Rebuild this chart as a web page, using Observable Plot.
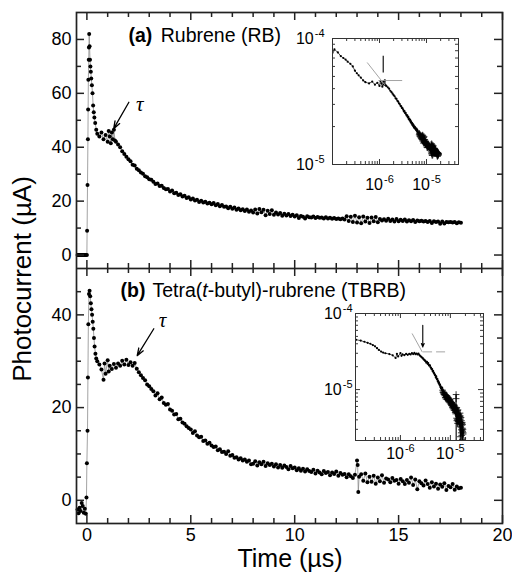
<!DOCTYPE html>
<html><head><meta charset="utf-8">
<script src="https://cdn.jsdelivr.net/npm/d3@7"></script>
<script src="https://cdn.jsdelivr.net/npm/@observablehq/plot@0.6"></script>
<style>
html,body{margin:0;padding:0;background:#fff;}
#wrap{position:relative;width:512px;height:573px;overflow:hidden;background:#fff;}
</style></head><body><div id="wrap"></div><script>
// ---------- data: photocurrent (µA) vs time (µs) ----------
const rbSamples = [
[-0.45,0],[-0.4,0],[-0.35,0],[-0.3,0],[-0.25,0],[-0.2,0],[-0.15,0],[-0.1,0],[-0.05,0],[0,0],
[0.01,9],[0.03,26],[0.05,43],[0.06,54],[0.07,65],[0.09,72.5],[0.1,77],[0.11,82],[0.13,77.5],[0.15,72.5],[0.17,70],[0.19,68],[0.21,65.5],[0.24,63],[0.27,60],[0.3,55.5],[0.33,53],[0.36,51],[0.4,49],[0.45,46.5],[0.5,45],
[0.6,44],[0.7,45.5],[0.8,43],[0.9,44.5],[1.0,42],[1.05,46],[1.1,44],[1.15,41.5],[1.2,45.5],[1.25,43],[1.3,46.5],[1.35,42.5],[1.4,42],
[1.5,41],[1.6,40],[1.7,38.5],[1.8,37.5],[1.9,36.5],[2.0,35.5],[2.1,34.8],[2.2,33.5],[2.3,33.2],[2.4,32],[2.5,31.5],[2.6,30.6],[2.7,30.2],[2.8,29.2],[2.9,28.9],
[3.0,28.1],[3.1,27.9],[3.2,27.2],[3.3,26.4],[3.4,26.5],[3.5,25.6],[3.6,25.7],[3.7,24.9],[3.8,24.4],[3.9,24.5],[4.0,23.6],[4.1,23.9],[4.2,22.9],[4.3,23.1],[4.4,22.3],[4.5,22.6],[4.6,21.7],[4.7,22.0],[4.8,21.2],[4.9,21.4],
[5.0,20.6],[5.1,21.0],[5.2,20.2],[5.3,20.5],[5.4,19.7],[5.5,20.1],[5.6,19.5],[5.7,19.8],[5.8,19.1],[5.9,19.4],[6.0,18.8],[6.1,19.3],[6.2,18.5],[6.3,18.9],[6.4,18.1],[6.5,18.6],[6.6,17.9],[6.7,18.0],[6.8,17.4],[6.9,17.9],
[7.0,17.2],[7.1,17.6],[7.2,16.8],[7.3,17.3],[7.4,16.6],[7.5,17.0],[7.6,16.3],[7.7,16.9],[7.8,16.1],[7.9,16.5],[8.0,15.8],[8.1,16.9],[8.2,15.4],[8.3,17.1],[8.4,15.9],[8.5,16.8],[8.6,14.8],[8.7,16.4],[8.8,15.2],[8.9,16.6],
[9.0,14.9],[9.1,15.8],[9.2,15.0],[9.3,15.6],[9.4,14.6],[9.5,15.3],[9.6,14.7],[9.7,15.2],[9.8,14.5],[9.9,14.9],[10.0,14.3],[10.1,14.8],[10.2,13.7],[10.3,14.5],[10.4,14.2],[10.5,13.6],[10.6,14.4],[10.7,14.0],[10.8,13.9],[10.9,14.3],
[11.0,13.7],[11.1,14.1],[11.2,13.8],[11.3,13.9],[11.4,13.6],[11.5,14.0],[11.6,13.6],[11.7,13.8],[11.8,13.5],[11.9,13.7],[12.0,13.4],[12.1,13.6],[12.2,13.3],[12.3,13.6],[12.4,13.2],[12.5,14.4],[12.6,12.6],[12.7,14.2],[12.8,12.3],[12.9,14.6],
[13.0,12.1],[13.1,14.0],[13.2,11.8],[13.3,14.3],[13.4,12.4],[13.5,13.8],[13.6,11.9],[13.7,13.9],[13.8,12.5],[13.9,14.1],[14.0,12.2],[14.1,13.4],[14.2,12.8],[14.3,13.3],[14.4,12.7],[14.5,13.5],[14.6,12.6],[14.7,13.2],[14.8,12.4],[14.9,13.4],
[15.0,12.5],[15.1,13.1],[15.2,12.6],[15.3,13.2],[15.4,12.4],[15.5,12.9],[15.6,12.5],[15.7,13.0],[15.8,12.3],[15.9,12.8],[16.0,12.5],[16.1,12.7],[16.2,12.4],[16.3,12.6],[16.4,12.3],[16.5,12.6],[16.6,11.9],[16.7,12.5],[16.8,12.3],[16.9,12.4],
[17.0,11.6],[17.1,12.4],[17.2,11.7],[17.3,12.3],[17.4,12.2],[17.5,12.3],[17.6,12.1],[17.7,12.3],[17.8,11.8],[17.9,12.2],[18.0,12.0]
];
const tbrbSamples = [
[-0.45,-2.0],[-0.4,-2.8],[-0.35,-1.6],[-0.3,-2.3],[-0.25,-0.6],[-0.2,-1.2],[-0.15,-2.7],[-0.1,-1.8],[-0.05,-2.9],[-0.02,0.6],
[0.0,8],[0.03,15],[0.05,26.5],[0.07,38],[0.1,44.5],[0.13,45.2],[0.16,44],[0.19,42.5],[0.22,41.2],[0.25,40],[0.28,38.5],[0.31,37],[0.34,35],[0.37,33.2],[0.41,31.6],[0.45,30.6],[0.5,30],
[0.6,29.3],[0.7,28.2],[0.8,26],[0.85,29.5],[0.9,27.3],[1.0,30.2],[1.05,27.8],[1.1,29],[1.2,28.3],[1.3,29.4],[1.4,28.6],[1.5,29.5],[1.6,29],[1.7,30.1],[1.8,29.3],[1.9,30.3],
[2.0,29.2],[2.1,29.8],[2.2,29],[2.3,29.6],[2.4,28.4],[2.5,27.6],[2.6,27.0],[2.7,26.4],[2.8,25.9],[2.9,25.0],[3.0,24.6],[3.1,24.0],[3.2,23.5],[3.3,22.6],[3.4,23.1],[3.5,21.8],[3.6,22.2],[3.7,21.0],[3.8,20.6],[3.9,20.8],
[4.0,19.6],[4.1,19.3],[4.2,18.5],[4.3,18.6],[4.4,17.5],[4.5,17.6],[4.6,16.8],[4.7,16.5],[4.8,16.0],[4.9,15.6],[5.0,15.3],[5.1,14.5],[5.2,14.9],[5.3,14.0],[5.4,13.6],[5.5,13.7],[5.6,12.8],[5.7,12.9],[5.8,12.2],[5.9,12.4],
[6.0,11.8],[6.1,11.5],[6.2,11.6],[6.3,10.8],[6.4,11.0],[6.5,10.4],[6.6,10.5],[6.7,10.0],[6.8,10.6],[6.9,9.6],[7.0,9.8],[7.1,9.2],[7.2,9.3],[7.3,8.8],[7.4,9.1],[7.5,8.6],[7.6,8.8],[7.7,8.3],[7.8,8.6],[7.9,7.8],
[8.0,7.9],[8.1,8.4],[8.2,7.5],[8.3,8.2],[8.4,7.8],[8.5,8.3],[8.6,7.4],[8.7,8.0],[8.8,7.6],[8.9,7.9],[9.0,7.3],[9.1,7.8],[9.2,7.1],[9.3,7.6],[9.4,7.0],[9.5,7.5],[9.6,7.2],[9.7,6.7],[9.8,7.4],[9.9,6.9],
[10.0,7.1],[10.1,6.5],[10.2,6.9],[10.3,6.4],[10.4,6.8],[10.5,6.2],[10.6,6.7],[10.7,6.3],[10.8,6.1],[10.9,6.6],[11.0,5.8],[11.1,6.4],[11.2,6.0],[11.3,5.6],[11.4,6.3],[11.5,5.9],[11.6,6.1],[11.7,5.4],[11.8,6.0],[11.9,5.7],
[12.0,6.2],[12.1,5.3],[12.2,5.9],[12.3,5.5],[12.4,5.7],[12.5,5.0],[12.6,5.6],[12.7,5.2],[12.8,4.8],[12.9,5.5],[13.0,8.6],[13.03,7.6],[13.06,1.8],[13.1,5.1],[13.2,5.6],[13.3,4.2],[13.4,5.8],[13.5,3.9],[13.6,5.1],[13.7,4.0],[13.8,5.3],[13.9,3.6],
[14.0,4.9],[14.1,4.1],[14.2,5.4],[14.3,3.8],[14.4,4.7],[14.5,4.5],[14.6,3.9],[14.7,4.8],[14.8,4.2],[14.9,4.4],[15.0,3.6],[15.1,4.6],[15.2,4.1],[15.3,3.5],[15.4,4.4],[15.5,3.8],[15.6,4.9],[15.7,3.3],[15.8,4.5],[15.9,2.4],
[16.0,4.1],[16.1,3.7],[16.2,3.2],[16.3,4.3],[16.4,3.5],[16.5,2.7],[16.6,3.9],[16.7,3.0],[16.8,3.6],[16.9,2.5],[17.0,3.4],[17.1,2.9],[17.2,3.7],[17.3,2.2],[17.4,3.1],[17.5,2.8],[17.6,3.5],[17.7,2.3],[17.8,3.0],[17.9,2.6],[18.0,2.7]
];

// ---------- axes ----------
const xDomain = [-0.5, 20];
const xMajor = [0, 5, 10, 15, 20];
const xMinor = [1,2,3,4,6,7,8,9,11,12,13,14,16,17,18,19];
const yDomainA = [-5, 90];
const yMajorA = [0, 20, 40, 60, 80];
const yMinorA = [10, 30, 50, 70];
const yDomainB = [-5, 50];
const yMajorB = [0, 20, 40];
const yMinorB = [5, 10, 15, 25, 30, 35, 45];

// insets (log–log, seconds and amperes)
const insetXDomainA = [1e-7, 4.8e-5];
const insetYDomainA = [1e-5, 1e-4];
const insetXDomainB = [1.26e-7, 4.6e-5];
const insetYDomainB = [2.14e-6, 1e-4];
const insetXMajor = [1e-6, 1e-5];
const insetXMinor = [2e-7,3e-7,4e-7,5e-7,6e-7,7e-7,8e-7,9e-7,2e-6,3e-6,4e-6,5e-6,6e-6,7e-6,8e-6,9e-6,2e-5,3e-5,4e-5];
const insetYMajor = [1e-5, 1e-4];
const insetYMinorA = [2e-5,3e-5,4e-5,5e-5,6e-5,7e-5,8e-5,9e-5];
const insetYMinorB = [3e-6,4e-6,5e-6,6e-6,7e-6,8e-6,9e-6,2e-5,3e-5,4e-5,5e-5,6e-5,7e-5,8e-5,9e-5];

// ---------- annotations ----------
const tauArrowA = {t1: 2.02, i1: 56.7, t2: 1.29, i2: 46.9};
const tauMarkA = {t: 2.55, i: 56.0};
const tauArrowB = {t1: 3.22, i1: 37.0, t2: 2.42, i2: 31.2};
const tauMarkB = {t: 3.64, i: 38.8};
const guidesA = [
  {x1: 5.47e-7, y1: 6.45e-5, x2: 1.3e-6, y2: 4.28e-5},
  {x1: 9.5e-7, y1: 4.64e-5, x2: 3.04e-6, y2: 4.64e-5}
];
const markerA = [{x1: 1.2e-6, y1: 7.3e-5, x2: 1.2e-6, y2: 5.38e-5}];
const guideDiagB = [{x1: 1.71e-6, y1: 5.46e-5, x2: 2.75e-6, y2: 3.1e-5}];
const guideFlatB = [{x1: 2.84e-6, y1: 3.13e-5, x2: 8.6e-6, y2: 3.13e-5}];
const markerB = [{x1: 2.8e-6, y1: 7.0e-5, x2: 2.8e-6, y2: 3.64e-5}];

const labelA = [{text: "(a)", weight: "bold"}, {text: " Rubrene (RB)", dx: 3}];
const labelB = [{text: "(b)", weight: "bold"}, {text: " Tetra(", dx: 2}, {text: "t", italic: true}, {text: "-butyl)-rubrene (TBRB)"}];
const xTitle = "Time (µs)";
const yTitle = "Photocurrent (µA)";

// ---------- helpers ----------
const FONT = "'Liberation Sans', Arial, Helvetica, sans-serif";
const AX = "#222";
const wrap = document.getElementById("wrap");
function place(el, left, top) {
  el.style.position = "absolute"; el.style.left = left + "px"; el.style.top = top + "px";
  wrap.appendChild(el);
}
// inward frame ticks on all four sides, drawn as rules whose ends come from the scale's inverse
function frameTicks({log = false, xDomain, yDomain, xMaj, xMin, yMaj, yMin, pw, ph, lMaj, lMin, sw}) {
  const xs = (log ? d3.scaleLog() : d3.scaleLinear()).domain(xDomain).range([0, pw]);
  const ys = (log ? d3.scaleLog() : d3.scaleLinear()).domain(yDomain).range([ph, 0]);
  const s = {stroke: AX, strokeWidth: sw};
  const m = [];
  for (const [arr, L] of [[xMaj, lMaj], [xMin, lMin]]) {
    m.push(Plot.ruleX(arr, {x: d => d, y1: yDomain[1], y2: ys.invert(L), ...s}));
    m.push(Plot.ruleX(arr, {x: d => d, y1: yDomain[0], y2: ys.invert(ph - L), ...s}));
  }
  for (const [arr, L] of [[yMaj, lMaj], [yMin, lMin]]) {
    m.push(Plot.ruleY(arr, {y: d => d, x1: xDomain[0], x2: xs.invert(L), ...s}));
    m.push(Plot.ruleY(arr, {y: d => d, x1: xDomain[1], x2: xs.invert(pw - L), ...s}));
  }
  return m;
}
const SVGNS = "http://www.w3.org/2000/svg";
function styleLabel(svg, segments) {
  const full = segments.map(s => s.text).join("");
  svg.querySelectorAll("text").forEach(t => {
    if (t.textContent === full) {
      t.textContent = "";
      for (const s of segments) {
        const ts = document.createElementNS(SVGNS, "tspan");
        ts.textContent = s.text;
        if (s.weight) ts.setAttribute("font-weight", s.weight);
        if (s.italic) ts.setAttribute("font-style", "italic");
        if (s.dx) ts.setAttribute("dx", s.dx);
        t.appendChild(ts);
      }
    }
  });
}
function superscripts(svg) {
  svg.querySelectorAll("text").forEach(t => {
    const m = t.textContent.match(/^10\^(-?\d+)$/);
    if (!m) return;
    t.textContent = "";
    const base = document.createElementNS(SVGNS, "tspan");
    base.textContent = "10";
    const sup = document.createElementNS(SVGNS, "tspan");
    sup.textContent = m[1];
    sup.setAttribute("font-size", "11px");
    sup.setAttribute("dy", "-7");
    sup.setAttribute("dx", "1");
    t.appendChild(base); t.appendChild(sup);
  });
}
const powerLabel = d => "10^" + Math.round(Math.log10(d));
const baseStyle = {fontFamily: FONT, fontSize: "18px", color: "black", background: "transparent"};

const rb = rbSamples.map(([t, i]) => ({t, i}));
const tb = tbrbSamples.map(([t, i]) => ({t, i}));

// ---------- panel (a) ----------
const panelA = Plot.plot({
  width: 512, height: 268, marginLeft: 76, marginRight: 10, marginTop: 12, marginBottom: 0,
  style: baseStyle,
  x: {domain: xDomain, axis: null, label: null},
  y: {domain: yDomainA, label: null},
  marks: [
    Plot.line(rb, {x: "t", y: "i", stroke: "#8c8c8c", strokeWidth: 0.8}),
    Plot.dot(rb, {x: "t", y: "i", r: 2, fill: "black"}),
    ...frameTicks({xDomain, yDomain: yDomainA, xMaj: xMajor, xMin: xMinor, yMaj: yMajorA, yMin: yMinorA, pw: 426, ph: 256, lMaj: 8, lMin: 5, sw: 1.5}),
    Plot.frame({stroke: AX, strokeWidth: 1.7}),
    Plot.axisY({ticks: yMajorA, anchor: "left", tickSize: 0, tickPadding: 5, fontSize: 18, label: null}),
    Plot.arrow([tauArrowA], {x1: "t1", y1: "i1", x2: "t2", y2: "i2", stroke: "black", strokeWidth: 1.3, headLength: 9, headAngle: 40}),
    Plot.text([tauMarkA], {x: "t", y: "i", text: d => "τ", fontFamily: "'Liberation Serif', 'DejaVu Serif', serif", fontStyle: "italic", fontSize: 21}),
    Plot.text([labelA.map(s => s.text).join("")], {frameAnchor: "top-left", text: d => d, dx: 52, dy: 29.5, textAnchor: "start", lineAnchor: "bottom", fontSize: 19.5})
  ]
});
styleLabel(panelA, labelA);
place(panelA, 0, 0);

// ---------- panel (b) ----------
const panelB = Plot.plot({
  width: 512, height: 305, marginLeft: 76, marginRight: 10, marginTop: 0, marginBottom: 50,
  style: baseStyle,
  x: {domain: xDomain, label: null},
  y: {domain: yDomainB, label: null},
  marks: [
    Plot.line(tb, {x: "t", y: "i", stroke: "#8c8c8c", strokeWidth: 0.8}),
    Plot.dot(tb, {x: "t", y: "i", r: 2, fill: "black"}),
    ...frameTicks({xDomain, yDomain: yDomainB, xMaj: xMajor, xMin: xMinor, yMaj: yMajorB, yMin: yMinorB, pw: 426, ph: 255, lMaj: 8, lMin: 5, sw: 1.5}),
    Plot.frame({stroke: AX, strokeWidth: 1.7}),
    Plot.axisY({ticks: yMajorB, anchor: "left", tickSize: 0, tickPadding: 5, fontSize: 18, label: null}),
    Plot.axisX({ticks: xMajor, anchor: "bottom", tickSize: 0, tickPadding: 5, fontSize: 18, label: null}),
    Plot.arrow([tauArrowB], {x1: "t1", y1: "i1", x2: "t2", y2: "i2", stroke: "black", strokeWidth: 1.3, headLength: 9, headAngle: 40}),
    Plot.text([tauMarkB], {x: "t", y: "i", text: d => "τ", fontFamily: "'Liberation Serif', 'DejaVu Serif', serif", fontStyle: "italic", fontSize: 21}),
    Plot.text([labelB.map(s => s.text).join("")], {frameAnchor: "top-left", text: d => d, dx: 44, dy: 28, textAnchor: "start", lineAnchor: "bottom", fontSize: 19.5})
  ]
});
styleLabel(panelB, labelB);
place(panelB, 0, 268);

// ---------- insets ----------
function inset(samples, {xDomain, yDomain, yMinor, w, h, pw, ph, xPad, yPad, extra}) {
  const data = samples.filter(([t, i]) => t > 0 && i > 0).map(([t, i]) => ({t: t * 1e-6, i: i * 1e-6}));
  const early = data.filter(d => d.t < 7e-6), late = data.filter(d => d.t >= 7e-6);
  const svg = Plot.plot({
    width: w, height: h, marginLeft: 50, marginRight: w - 50 - pw, marginTop: 18, marginBottom: h - 18 - ph,
    style: {...baseStyle, fontSize: "16px"},
    x: {type: "log", domain: xDomain, label: null},
    y: {type: "log", domain: yDomain, label: null},
    marks: [
      Plot.frame({fill: "white", stroke: "none"}),
      Plot.line(data, {x: "t", y: "i", stroke: "black", strokeWidth: 0.7, clip: true}),
      Plot.dot(early, {x: "t", y: "i", r: 1.1, fill: "black", clip: true}),
      Plot.dot(late, {x: "t", y: "i", symbol: "plus", r: 2.3, stroke: "black", strokeWidth: 0.8, clip: true}),
      ...extra,
      ...frameTicks({log: true, xDomain, yDomain, xMaj: insetXMajor, xMin: insetXMinor, yMaj: insetYMajor, yMin: yMinor, pw, ph, lMaj: 5, lMin: 3, sw: 0.9}),
      Plot.frame({stroke: "#333", strokeWidth: 1}),
      Plot.axisY({ticks: insetYMajor, anchor: "left", tickSize: 0, tickPadding: yPad, tickFormat: powerLabel, fontSize: 16, label: null}),
      Plot.axisX({ticks: insetXMajor, anchor: "bottom", tickSize: 0, tickPadding: xPad, tickFormat: powerLabel, fontSize: 16, label: null})
    ]
  });
  superscripts(svg);
  return svg;
}
const insetA = inset(rbSamples, {
  xDomain: insetXDomainA, yDomain: insetYDomainA, yMinor: insetYMinorA, w: 190, h: 184, pw: 126, ph: 126, xPad: 14, yPad: 8,
  extra: [
    Plot.link(guidesA, {x1: "x1", y1: "y1", x2: "x2", y2: "y2", stroke: "#9a9a9a", strokeWidth: 0.9}),
    Plot.link(markerA, {x1: "x1", y1: "y1", x2: "x2", y2: "y2", stroke: "black", strokeWidth: 1.1})
  ]
});
place(insetA, 282, 20);
const insetB = inset(tbrbSamples, {
  xDomain: insetXDomainB, yDomain: insetYDomainB, yMinor: insetYMinorB, w: 192, h: 185, pw: 128, ph: 127, xPad: 7, yPad: 3,
  extra: [
    Plot.link(guideDiagB, {x1: "x1", y1: "y1", x2: "x2", y2: "y2", stroke: "#9a9a9a", strokeWidth: 0.9}),
    Plot.link(guideFlatB, {x1: "x1", y1: "y1", x2: "x2", y2: "y2", stroke: "#9a9a9a", strokeWidth: 0.9, strokeDasharray: "9,4"}),
    Plot.arrow(markerB, {x1: "x1", y1: "y1", x2: "x2", y2: "y2", stroke: "black", strokeWidth: 1.1, headLength: 5, headAngle: 45})
  ]
});
place(insetB, 305, 295);

// ---------- axis titles ----------
const over = d3.create("svg").attr("width", 512).attr("height", 573)
  .style("font-family", FONT).style("pointer-events", "none");
over.append("text").attr("transform", "translate(31,279) rotate(-90)")
  .attr("text-anchor", "middle").attr("font-size", 26).attr("fill", "black").text(yTitle);
over.append("text").attr("x", 290).attr("y", 567)
  .attr("text-anchor", "middle").attr("font-size", 25).attr("fill", "black").text(xTitle);
place(over.node(), 0, 0);
</script></body></html>
